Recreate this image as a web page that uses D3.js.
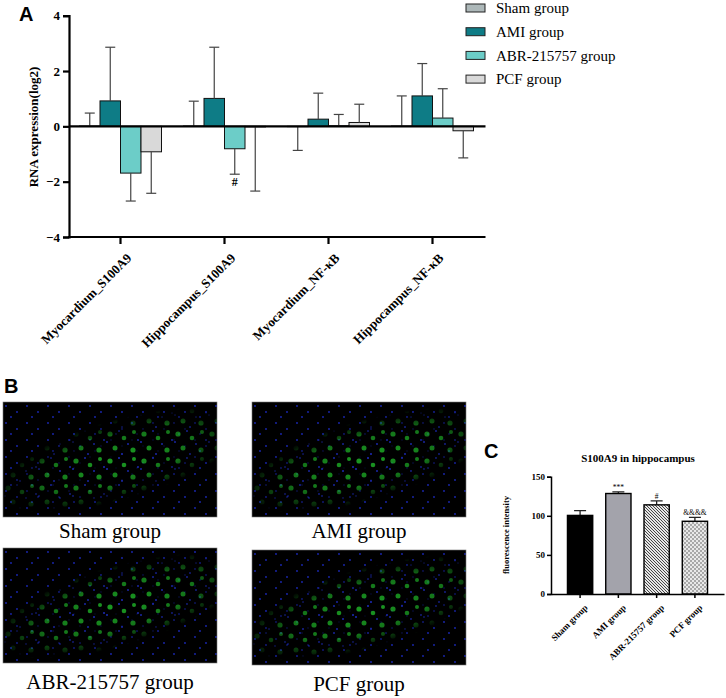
<!DOCTYPE html>
<html>
<head>
<meta charset="utf-8">
<script src="https://cdn.jsdelivr.net/npm/d3@7"></script>
<style>
  body { margin: 0; background: #fff; }
  svg { display: block; }
  text { font-family: "Liberation Serif", "Times New Roman", serif; }
  .plabel { font-family: "Liberation Sans", Arial, sans-serif; font-weight: bold; }
</style>
</head>
<body>
<svg id="fig" width="726" height="698"></svg>
<script>
// ---- panel A data ----
var genes = ["Myocardium_S100A9", "Hippocampus_S100A9", "Myocardium_NF-κB", "Hippocampus_NF-κB"];
var groups = ["Sham group", "AMI group", "ABR-215757 group", "PCF group"];
var shamMean = [0.01, 0.01, -0.01, 0.01];
var shamSd   = [0.47, 0.90, 0.86, 1.09];
var amiMean  = [0.92, 1.01, 0.26, 1.10];
var amiSd    = [1.94, 1.85, 0.94, 1.17];
var abrMean  = [-1.69, -0.81, 0.02, 0.30];
var abrSd    = [1.01, 0.92, 0.41, 1.06];
var pcfMean  = [-0.92, -0.02, 0.14, -0.16];
var pcfSd    = [1.50, 2.32, 0.66, 0.98];
var yTicksA = [-4, -2, 0, 2, 4];
var groupColors = ["#adb8b9", "#0e7c86", "#6ccdc8", "#d9d9d9"];
var marksA = [{gene: "Hippocampus_S100A9", group: "ABR-215757 group", text: "#"}];

// ---- panel C data ----
var cGroups = ["Sham group", "AMI group", "ABR-215757 group", "PCF group"];
var cMean = [100.5, 128.5, 114, 93];
var cSd   = [6, 2, 5, 5];
var cMarks = ["", "***", "#", "&&&&"];
var yTicksC = [0, 50, 100, 150];

// ---- panel B labels ----
var images = ["Sham group", "AMI group", "ABR-215757 group", "PCF group"];

var svg = d3.select("#fig");
var defs = svg.append("defs");

// hatch patterns for panel C
var hatch = defs.append("pattern").attr("id", "hatch")
    .attr("patternUnits", "userSpaceOnUse").attr("width", 3).attr("height", 3);
hatch.append("rect").attr("width", 3).attr("height", 3).attr("fill", "#e6e6e6");
hatch.append("path").attr("d", "M-1,-1 L4,4 M-1,2 L1,4 M2,-1 L4,1")
    .attr("stroke", "#333").attr("stroke-width", 0.9);
var checks = defs.append("pattern").attr("id", "checks")
    .attr("patternUnits", "userSpaceOnUse").attr("width", 4).attr("height", 4);
checks.append("rect").attr("width", 4).attr("height", 4).attr("fill", "#a8a8a8");
checks.append("rect").attr("width", 2).attr("height", 2).attr("fill", "#e8e8e8");
checks.append("rect").attr("x", 2).attr("y", 2).attr("width", 2).attr("height", 2).attr("fill", "#e8e8e8");

// stylised micrograph texture: tile of nuclei (green) and small blue dots
var cells = defs.append("pattern").attr("id", "cells")
    .attr("patternUnits", "userSpaceOnUse").attr("width", 34).attr("height", 27);
cells.append("rect").attr("width", 34).attr("height", 27).attr("fill", "#000");
[[5, 5, 2.6], [19, 9, 2.3], [10, 19, 2.5], [28, 21, 2.6], [29, 3, 2]].forEach(function(c) {
  cells.append("circle").attr("cx", c[0]).attr("cy", c[1]).attr("r", c[2]).attr("fill", "#1ca424");
});
[[14, 2], [2, 13], [23, 15], [17, 25], [33, 11]].forEach(function(c) {
  cells.append("circle").attr("cx", c[0]).attr("cy", c[1]).attr("r", 1).attr("fill", "#1f2fd0");
});
var blues = defs.append("pattern").attr("id", "blues")
    .attr("patternUnits", "userSpaceOnUse").attr("width", 21).attr("height", 17);
blues.append("rect").attr("width", 21).attr("height", 17).attr("fill", "#000");
[[3, 4], [14, 10], [8, 15]].forEach(function(c) {
  blues.append("circle").attr("cx", c[0]).attr("cy", c[1]).attr("r", 0.9).attr("fill", "#1a28b8");
});

var bandGrad = defs.append("radialGradient").attr("id", "bandGrad");
bandGrad.append("stop").attr("offset", "0%").attr("stop-color", "#fff").attr("stop-opacity", 0.95);
bandGrad.append("stop").attr("offset", "60%").attr("stop-color", "#fff").attr("stop-opacity", 0.7);
bandGrad.append("stop").attr("offset", "100%").attr("stop-color", "#fff").attr("stop-opacity", 0);
var bandMask = defs.append("mask").attr("id", "bandMask").attr("maskContentUnits", "userSpaceOnUse");
bandMask.append("ellipse").attr("cx", 115).attr("cy", 58).attr("rx", 130).attr("ry", 40)
    .attr("transform", "rotate(-16,115,58)").attr("fill", "url(#bandGrad)");
defs.append("clipPath").attr("id", "imgClip").append("rect").attr("width", 214).attr("height", 115);

// ================= Panel A =================
var x0 = d3.scaleBand().domain(genes).range([68.5, 484.5]);
var x1 = d3.scaleBand().domain(groups).range([11, 93]);
var yA = d3.scaleLinear().domain([-4, 4]).range([237, 15.7]);

var means = [shamMean, amiMean, abrMean, pcfMean];
var sds = [shamSd, amiSd, abrSd, pcfSd];
var rowsA = [];
genes.forEach(function(g, i) {
  groups.forEach(function(k, j) {
    rowsA.push({gene: g, group: k, mean: means[j][i], sd: sds[j][i], color: groupColors[j]});
  });
});

var gA = svg.append("g");
svg.append("text").attr("class", "plabel").attr("x", 19).attr("y", 21)
    .attr("font-size", 20).text("A");

gA.selectAll("rect.bar").data(rowsA).enter().append("rect")
    .attr("class", "bar")
    .attr("x", function(d) { return x0(d.gene) + x1(d.group); })
    .attr("y", function(d) { return yA(Math.max(0, d.mean)); })
    .attr("width", x1.bandwidth())
    .attr("height", function(d) { return Math.abs(yA(d.mean) - yA(0)); })
    .attr("fill", function(d) { return d.color; })
    .attr("stroke", "#111").attr("stroke-width", 1);

function errEnd(d) { return yA(d.mean + (d.mean < 0 ? -d.sd : d.sd)); }
function midA(d) { return x0(d.gene) + x1(d.group) + x1.bandwidth() / 2; }
var eb = gA.selectAll("g.err").data(rowsA).enter().append("g").attr("class", "err")
    .attr("stroke", "#444").attr("stroke-width", 1.2);
eb.append("line")
    .attr("x1", midA).attr("x2", midA)
    .attr("y1", function(d) { return yA(d.mean); })
    .attr("y2", errEnd);
eb.append("line")
    .attr("x1", function(d) { return midA(d) - 5; })
    .attr("x2", function(d) { return midA(d) + 5; })
    .attr("y1", errEnd).attr("y2", errEnd);

gA.selectAll("text.mk").data(marksA).enter().append("text")
    .attr("x", midA)
    .attr("y", function(d) {
      var r = rowsA.filter(function(q) { return q.gene == d.gene && q.group == d.group; })[0];
      return errEnd(r) + 12;
    })
    .attr("text-anchor", "middle").attr("font-size", 12).attr("font-weight", "bold")
    .text(function(d) { return d.text; });

// zero line
gA.append("line").attr("x1", 69).attr("x2", 485.5)
    .attr("y1", yA(0)).attr("y2", yA(0))
    .attr("stroke", "#000").attr("stroke-width", 2.2);

var axYA = gA.append("g").attr("transform", "translate(69,0)")
    .call(d3.axisLeft(yA).tickValues(yTicksA).tickSize(6).tickPadding(3).tickFormat(d3.format("d")));
axYA.select(".domain").attr("stroke-width", 2.2);
axYA.selectAll(".tick line").attr("stroke-width", 2.2);
axYA.selectAll("text").attr("font-size", 13).attr("font-weight", "bold")
    .attr("font-family", "Liberation Serif, serif");

var axXA = gA.append("g").attr("transform", "translate(0," + yA(-4) + ")")
    .call(d3.axisBottom(x0).tickSize(7).tickSizeOuter(0).tickPadding(3));
axXA.select(".domain").attr("d", "M68,0H485.5").attr("stroke-width", 2.2);
axXA.selectAll(".tick line").attr("stroke-width", 2.2);
axXA.selectAll("text").attr("font-size", 13).attr("font-weight", "bold")
    .attr("font-family", "Liberation Serif, serif")
    .attr("text-anchor", "end").attr("dy", "0.3em")
    .attr("transform", "translate(2,12) rotate(-45)");

gA.append("text").attr("transform", "translate(38,127) rotate(-90)")
    .attr("text-anchor", "middle").attr("font-size", 13).attr("font-weight", "bold")
    .text("RNA expression(log2)");

// legend
var leg = gA.selectAll("g.leg").data(groups).enter().append("g").attr("class", "leg")
    .attr("transform", function(d, i) { return "translate(466," + (8 + i * 23.7) + ")"; });
leg.append("rect").attr("x", 0).attr("y", -4).attr("width", 19).attr("height", 8)
    .attr("fill", function(d, i) { return groupColors[i]; })
    .attr("stroke", "#222").attr("stroke-width", 1);
leg.append("text").attr("x", 30).attr("y", 0).attr("dy", "0.35em")
    .attr("font-size", 15).text(function(d) { return d; });

// ================= Panel B =================
svg.append("text").attr("class", "plabel").attr("x", 4).attr("y", 393)
    .attr("font-size", 20).text("B");
var imgPos = [[3, 402], [252, 402], [3, 548], [252, 550]];
var gB = svg.selectAll("g.img").data(images).enter().append("g").attr("class", "img")
    .attr("transform", function(d, i) { return "translate(" + imgPos[i][0] + "," + imgPos[i][1] + ")"; });
var pic = gB.append("g").attr("clip-path", "url(#imgClip)");
pic.append("rect").attr("width", 214).attr("height", 115).attr("fill", "url(#blues)");
pic.append("rect").attr("width", 214).attr("height", 115).attr("fill", "url(#cells)")
    .attr("mask", "url(#bandMask)");
gB.append("rect").attr("width", 214).attr("height", 115).attr("fill", "none")
    .attr("stroke", "#777").attr("stroke-width", 0.6);
gB.append("text").attr("x", 107).attr("y", function(d, i) { return i < 2 ? 136 : 141; })
    .attr("text-anchor", "middle").attr("font-size", 21).text(function(d) { return d; });

// ================= Panel C =================
svg.append("text").attr("class", "plabel").attr("x", 484).attr("y", 458)
    .attr("font-size", 20).text("C");
var xC = d3.scaleBand().domain(cGroups).range([551, 724]).paddingInner(0.34).paddingOuter(0.43);
var yC = d3.scaleLinear().domain([0, 150]).range([594, 476.7]);
var fillsC = ["#000", "#a3a3ab", "url(#hatch)", "url(#checks)"];
var gC = svg.append("g");

gC.append("text").attr("x", 638).attr("y", 462).attr("text-anchor", "middle")
    .attr("font-size", 11).attr("font-weight", "bold").text("S100A9 in hippocampus");

gC.selectAll("path.cerr").data(cGroups).enter().append("path").attr("class", "cerr")
    .attr("d", function(d, i) {
      var cx = xC(d) + xC.bandwidth() / 2, top = yC(cMean[i] + cSd[i]);
      return "M" + cx + "," + yC(cMean[i]) + "V" + top + "M" + (cx - 6) + "," + top + "H" + (cx + 6);
    })
    .attr("stroke", "#222").attr("stroke-width", 1.3).attr("fill", "none");

gC.selectAll("rect.cbar").data(cGroups).enter().append("rect").attr("class", "cbar")
    .attr("x", function(d) { return xC(d); })
    .attr("y", function(d, i) { return yC(cMean[i]); })
    .attr("width", xC.bandwidth())
    .attr("height", function(d, i) { return yC(0) - yC(cMean[i]); })
    .attr("fill", function(d, i) { return fillsC[i]; })
    .attr("stroke", "#000").attr("stroke-width", 1.4);

gC.selectAll("text.cmk").data(cGroups).enter().append("text")
    .attr("x", function(d) { return xC(d) + xC.bandwidth() / 2; })
    .attr("y", function(d, i) { return yC(cMean[i] + cSd[i]) - 2; })
    .attr("text-anchor", "middle").attr("font-size", 7.5)
    .text(function(d, i) { return cMarks[i]; });

var axYC = gC.append("g").attr("transform", "translate(551,0)")
    .call(d3.axisLeft(yC).tickValues(yTicksC).tickSize(4).tickPadding(2));
axYC.select(".domain").attr("stroke-width", 1.5);
axYC.selectAll(".tick line").attr("stroke-width", 1.5);
axYC.selectAll("text").attr("font-size", 9).attr("font-weight", "bold")
    .attr("font-family", "Liberation Serif, serif");

var axXC = gC.append("g").attr("transform", "translate(0,594)")
    .call(d3.axisBottom(xC).tickSize(4).tickSizeOuter(0).tickPadding(2));
axXC.select(".domain").attr("stroke-width", 1.5);
axXC.selectAll(".tick line").attr("stroke-width", 1.5);
axXC.selectAll("text").attr("font-size", 9).attr("font-weight", "bold")
    .attr("font-family", "Liberation Serif, serif")
    .attr("text-anchor", "end").attr("dy", "0.3em")
    .attr("transform", "translate(2,8) rotate(-45)");

gC.append("text").attr("transform", "translate(509,535) rotate(-90)")
    .attr("text-anchor", "middle").attr("font-size", 8.5).attr("font-weight", "bold")
    .text("fluorescence intensity");
</script>
</body>
</html>
